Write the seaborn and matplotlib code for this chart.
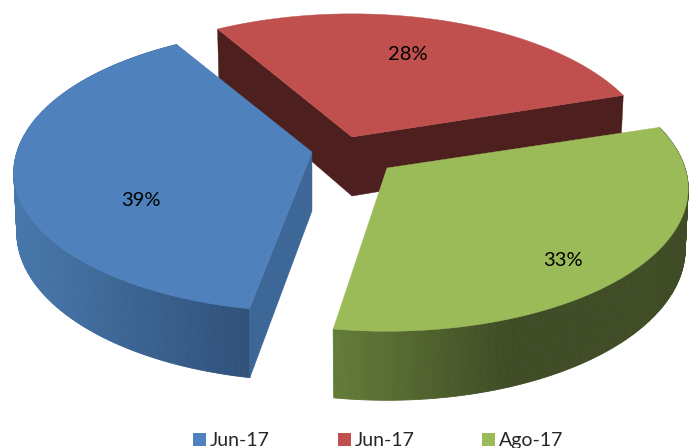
import numpy as np
import matplotlib
matplotlib.use("Agg")
import matplotlib.pyplot as plt
import seaborn as sns
from matplotlib.patches import Patch
from matplotlib.colors import to_rgb

labels = ["Jun-17", "Jun-17", "Ago-17"]
values = [39, 28, 33]
value_text = ["39%", "28%", "33%"]

sns.set_theme(style="white")
plt.rcParams['font.family'] = ['Lato', 'DejaVu Sans']
palette = sns.color_palette(["#4f81bd", "#c0504d", "#9bbb59"])

# projection / layout styles
RX, RY, PERSP, DEPTH, SHRINK = 298.0, 141.0, 0.145, 59.0, 0.99
FIRST_BOUNDARY = -30.0  # blue/red edge, degrees clockwise from north
apexes = [(312, 152), (352, 137), (387, 168)]
slice_scale = [(0.99, 0.97), (1.0, 1.0), (1.0, 0.99)]  # x scale, front-half y scale
edge_trim = [(0.9, -1.0), (-0.5, 1.2), (1.7, -0.7)]  # small perspective corrections (deg)
label_pos = [(141, 200), (408, 54), (563, 261)]
blue_rim = ("#4777ab", "#30517a", 16, 250)
green_rim = ("#647d39", "#3f4c25", 333, 510)
BLUE_FACE = "#3d6796"
RED_FACE = "#4d1f1e"


def project(i, t, r=1.0, bottom=False):
    apex = apexes[i]
    sx, sy = slice_scale[i]
    X, Y = r * np.sin(t), r * np.cos(t)
    d = 1 + PERSP * Y
    s = SHRINK if bottom else 1.0
    x = apex[0] + s * sx * RX * X / d
    y = apex[1] - np.where(Y < 0, sy, 1.0) * RY * Y / d + (DEPTH / d if bottom else 0)
    return np.array(x), np.array(y)


fig = plt.figure(figsize=(6.89, 4.48), dpi=100)
ax = fig.add_axes([0, 0, 1, 1])
ax.set_xlim(0, 689)
ax.set_ylim(448, 0)
ax.axis("off")

# slice spans, clockwise: red, green, blue follow each other
frac = np.array(values) / sum(values) * 360
red_span = (FIRST_BOUNDARY, FIRST_BOUNDARY + frac[1])
green_span = (red_span[1], red_span[1] + frac[2])
blue_span = (green_span[1], green_span[1] + frac[0])
spans = [(s[0] + e[0], s[1] + e[1]) for s, e in zip([blue_span, red_span, green_span], edge_trim)]


def arc(i, n=200):
    return np.radians(np.linspace(spans[i][0], spans[i][1], n))


def top(i, z):
    t = arc(i)
    x, y = project(i, t)
    ax.fill(np.r_[apexes[i][0], x], np.r_[apexes[i][1], y],
            color=palette[i], lw=0.3, zorder=z)


def radial_face(i, angle, color, z):
    t = np.radians(angle)
    a = apexes[i]
    x1, y1 = project(i, t)
    x2, y2 = project(i, t, bottom=True)
    xa, ya = project(i, t, r=0.0, bottom=True)
    ax.fill([a[0], x1, x2, xa], [a[1], y1, y2, ya], color=color, lw=0.3, zorder=z)


def rim(i, stops, z):
    c0, c1 = np.array(to_rgb(stops[0])), np.array(to_rgb(stops[1]))
    t = arc(i, 240)
    xt, yt = project(i, t)
    xb, yb = project(i, t, bottom=True)
    for j in range(len(t) - 1):
        f = np.clip((xt[j] - stops[2]) / (stops[3] - stops[2]), 0, 1)
        col = c0 + (c1 - c0) * f
        ax.fill([xt[j], xt[j + 1], xb[j + 1], xb[j]],
                [yt[j], yt[j + 1], yb[j + 1], yb[j]],
                color=col, lw=0.6, zorder=z)


# red (rear slice)
radial_face(1, spans[1][0], RED_FACE, 1)
radial_face(1, spans[1][1], RED_FACE, 1)
top(1, 2)
# blue
rim(0, blue_rim, 3)
radial_face(0, spans[0][0], BLUE_FACE, 3.5)
top(0, 4)
# green
rim(2, green_rim, 5)
top(2, 6)

for txt, (x, y) in zip(value_text, label_pos):
    ax.text(x, y, txt, ha="center", va="center", fontsize=14.5, color="black", zorder=10)

handles = [Patch(facecolor=c, edgecolor="none") for c in palette]
ax.legend(handles, labels, ncol=3, loc="lower center", bbox_to_anchor=(0.549, -0.025),
          frameon=False, fontsize=14, handlelength=0.67, handleheight=0.67,
          handletextpad=0.2, columnspacing=3.5, borderpad=0, labelspacing=0)

fig.savefig("out.png", dpi=100)
